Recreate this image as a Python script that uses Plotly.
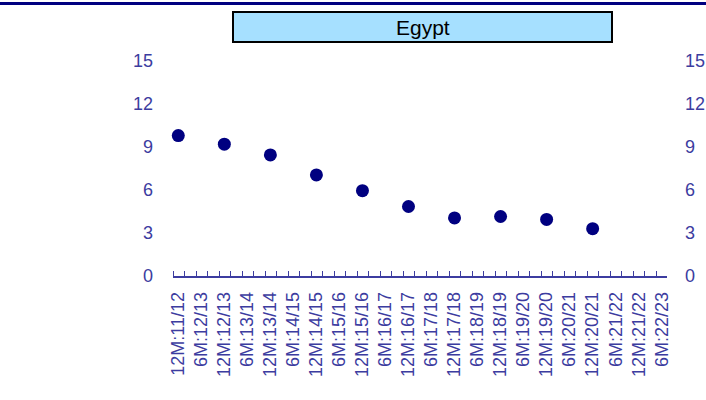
import plotly.graph_objects as go

# categories along the x axis (half-year and full-year periods)
periods = ["12M:11/12", "6M:12/13", "12M:12/13", "6M:13/14", "12M:13/14", "6M:14/15",
           "12M:14/15", "6M:15/16", "12M:15/16", "6M:16/17", "12M:16/17", "6M:17/18",
           "12M:17/18", "6M:18/19", "12M:18/19", "6M:19/20", "12M:19/20", "6M:20/21",
           "12M:20/21", "6M:21/22", "12M:21/22", "6M:22/23"]

# observed values (only the 12M periods have data)
point_periods = ["12M:11/12", "12M:12/13", "12M:13/14", "12M:14/15", "12M:15/16",
                 "12M:16/17", "12M:17/18", "12M:18/19", "12M:19/20", "12M:20/21"]
point_values = [9.8, 9.2, 8.45, 7.05, 5.95, 4.85, 4.05, 4.15, 3.95, 3.3]

y_ticks = [0, 3, 6, 9, 12, 15]
title = "Egypt"

axis_col = "#3c3ca0"
navy = "#000080"
font = "Liberation Sans, Arial, sans-serif"

# plot area in pixels (left, right, top, bottom)
L, R, T, B = 173, 667, 61, 276
W, H = R - L, B - T


def px(x):
    return (x - L) / W


def py(y):
    return (B - y) / H


xpos = [periods.index(p) for p in point_periods]

fig = go.Figure()
fig.add_trace(go.Scatter(
    x=xpos, y=point_values, mode="markers", cliponaxis=False,
    marker=dict(size=13, color=navy),
    showlegend=False, hoverinfo="skip"
))
# invisible trace to drive the right-hand axis
fig.add_trace(go.Scatter(x=[0], y=[0], yaxis="y2", mode="markers",
                         marker=dict(opacity=0), showlegend=False, hoverinfo="skip"))

fig.update_layout(
    width=706, height=400, autosize=False,
    margin=dict(l=L, r=706 - R, t=T, b=400 - B),
    paper_bgcolor="white", plot_bgcolor="white",
    font=dict(family=font, color=axis_col, size=18),
    xaxis=dict(
        range=[-0.23, 21.23], automargin=False,
        tickmode="array", tickvals=list(range(len(periods))), ticktext=periods,
        tickangle=-90, ticks="", ticklabelstandoff=7,
        showgrid=False, zeroline=False,
        showline=True, linecolor=axis_col, linewidth=1.5,
        minor=dict(ticks="inside", tick0=-0.23, dtick=0.5, ticklen=5,
                   tickcolor=axis_col, tickwidth=1, showgrid=False),
        tickfont=dict(size=18, color=axis_col),
    ),
    yaxis=dict(
        range=[0, 15], tickvals=y_ticks, showgrid=False, zeroline=False,
        automargin=False, showline=False, ticks="", ticklabelstandoff=19,
        tickfont=dict(size=18, color=axis_col),
    ),
    yaxis2=dict(
        range=[0, 15], tickvals=y_ticks, overlaying="y", side="right",
        automargin=False, showgrid=False, zeroline=False, showline=False,
        ticks="", ticklabelstandoff=17, tickfont=dict(size=18, color=axis_col),
    ),
    shapes=[
        dict(type="line", xref="paper", yref="paper", x0=px(0), x1=px(706),
             y0=py(3.5), y1=py(3.5), line=dict(color=navy, width=3)),
        dict(type="rect", xref="paper", yref="paper",
             x0=px(233), x1=px(612), y0=py(42), y1=py(12),
             fillcolor="#a6e0ff", line=dict(color="black", width=2)),
    ],
    annotations=[
        dict(text=title, xref="paper", yref="paper",
             x=px(422.5), y=py(28),
             showarrow=False, xanchor="center", yanchor="middle",
             font=dict(family=font, size=21, color="black")),
    ],
)

fig.write_html(
    "out.html",
    config={"displayModeBar": False},
    post_script=(
        "document.body.style.margin='0';"
        "document.documentElement.style.overflow='hidden';"
        "document.body.style.overflow='hidden';"
    ),
)
